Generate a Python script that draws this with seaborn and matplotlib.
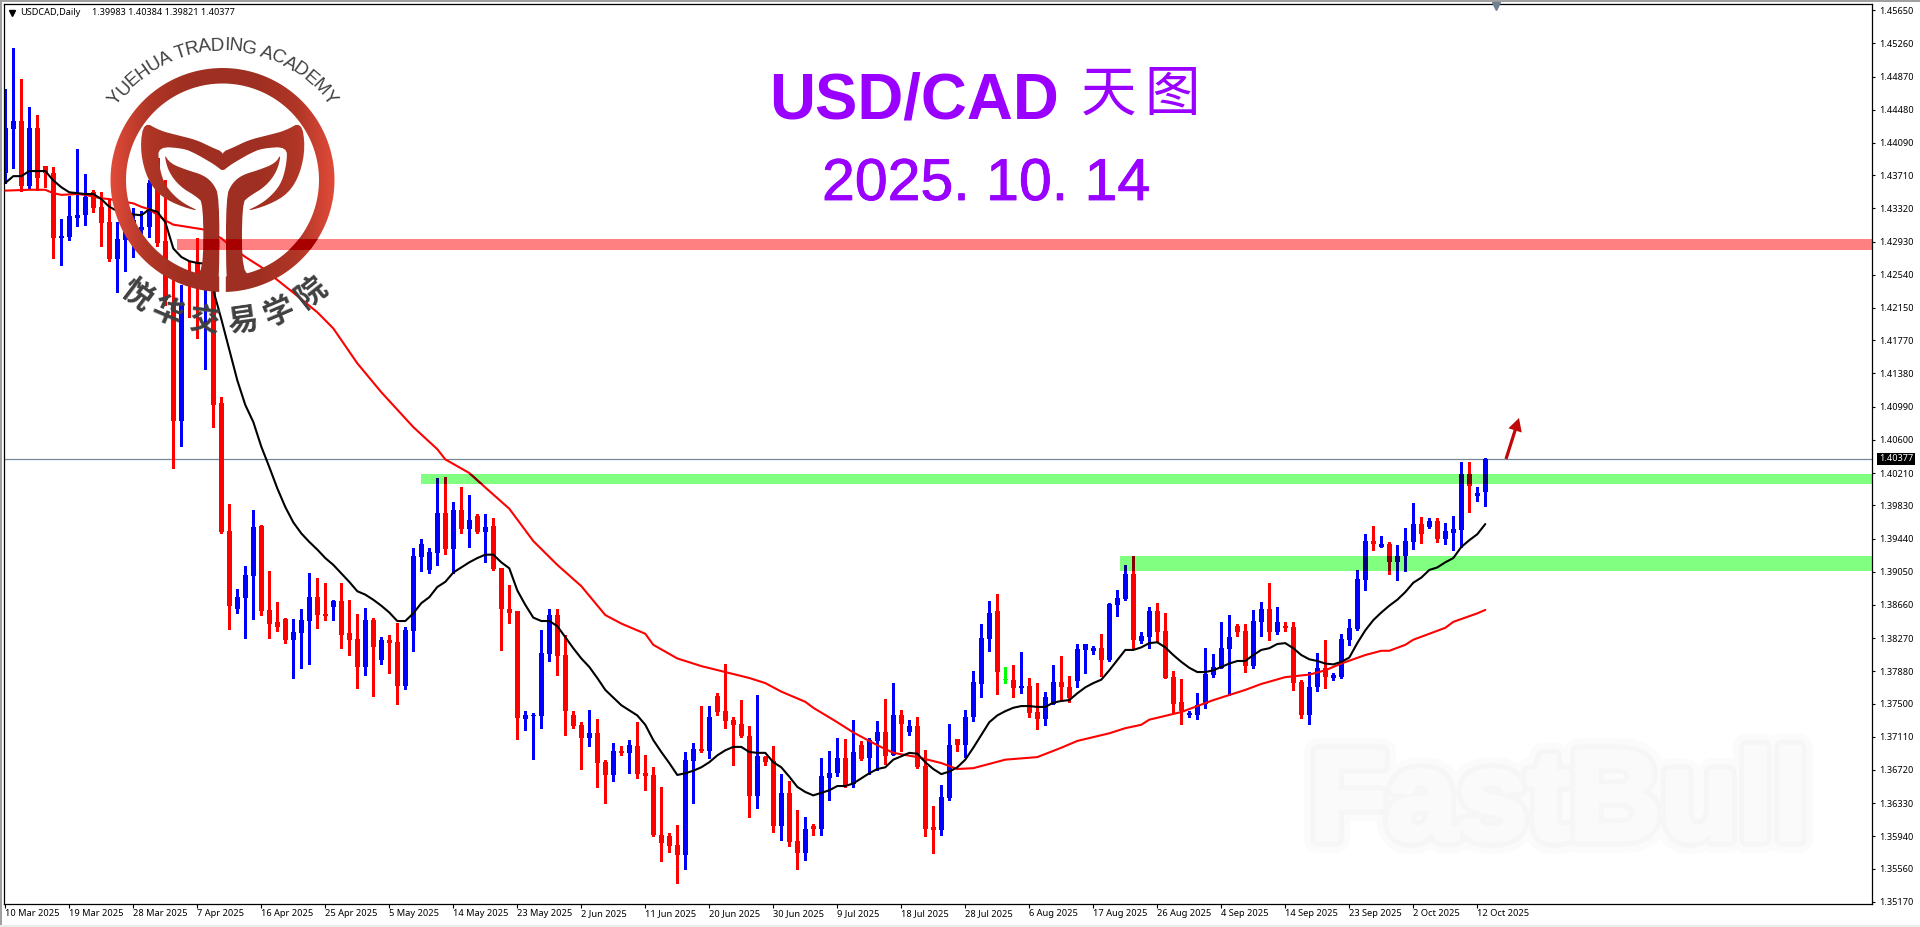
import numpy as np
import pandas as pd
import seaborn as sns
import matplotlib
matplotlib.use("Agg")
import matplotlib.pyplot as plt
import matplotlib.patheffects as pe
from matplotlib.colors import LinearSegmentedColormap
from matplotlib.font_manager import FontProperties
from matplotlib.patches import FancyArrow, PathPatch, Rectangle
from matplotlib.path import Path
from matplotlib.textpath import text_to_path

# %% Data

opens = [1.4374,1.4425,1.4435,1.4358,1.4427,1.4382,1.4374,1.4297,1.4298,1.4321,1.4324,1.4351,1.4334,1.4316,1.4273,1.4295,1.4297,1.4307,1.4310,1.4391,
         1.4294,1.4221,1.4082,1.4257,1.4269,1.4236,1.4239,1.4103,1.3953,1.3861,1.3874,1.3900,1.3959,1.3860,1.3846,1.3849,1.3825,1.3833,1.3847,1.3875,
         1.3855,1.3863,1.3871,1.3833,1.3826,1.3793,1.3848,1.3801,1.3825,1.3822,1.3771,1.3835,1.3922,1.3907,1.3927,1.3974,1.3932,1.3978,1.3955,1.3971,
         1.3952,1.3959,1.3909,1.3861,1.3859,1.3732,1.3735,1.3735,1.3808,1.3854,1.3807,1.3737,1.3725,1.3709,1.3715,1.3681,1.3666,1.3694,1.3692,1.3700,
         1.3668,1.3666,1.3596,1.3594,1.3584,1.3572,1.3682,1.3696,1.3694,1.3759,1.3741,1.3731,1.3726,1.3712,1.3641,1.3687,1.3682,1.3606,1.3645,1.3588,
         1.3574,1.3606,1.3602,1.3663,1.3668,1.3686,1.3655,1.3701,1.3686,1.3706,1.3716,1.3690,1.3736,1.3716,1.3723,1.3676,1.3605,1.3601,1.3639,1.3708,
         1.3701,1.3734,1.3773,1.3826,1.3859,1.3778,1.3778,1.3768,1.3771,1.3740,1.3732,1.3749,1.3775,1.3770,1.3776,1.3813,1.3812,1.3815,1.3801,1.3866,
         1.3873,1.3902,1.3823,1.3828,1.3859,1.3835,1.3781,1.3752,1.3736,1.3737,1.3749,1.3783,1.3792,1.3814,1.3841,1.3835,1.3794,1.3846,1.3861,1.3834,
         1.3841,1.3840,1.3775,1.3737,1.3769,1.3792,1.3780,1.3781,1.3825,1.3838,1.3895,1.3941,1.3934,1.3937,1.3916,1.3924,1.3940,1.3961,1.3957,1.3964,
         1.3944,1.3951,1.3954,1.4020,1.3994,1.39983]
highs = [1.4472,1.4521,1.4484,1.4451,1.4442,1.4382,1.4381,1.4320,1.4347,1.4402,1.4373,1.4354,1.4351,1.4342,1.4316,1.4327,1.4333,1.4329,1.4365,1.4391,
         1.4365,1.4248,1.4242,1.4269,1.4297,1.4283,1.4254,1.4110,1.3985,1.3885,1.3912,1.3978,1.3960,1.3906,1.3869,1.3851,1.3849,1.3861,1.3904,1.3898,
         1.3892,1.3872,1.3892,1.3872,1.3855,1.3862,1.3850,1.3828,1.3831,1.3845,1.3840,1.3933,1.3944,1.3933,1.4015,1.4016,1.3987,1.4004,1.3995,1.3973,
         1.3973,1.3968,1.3909,1.3889,1.3859,1.3741,1.3739,1.3836,1.3861,1.3861,1.3831,1.3741,1.3728,1.3742,1.3732,1.3684,1.3704,1.3700,1.3707,1.3728,
         1.3690,1.3675,1.3652,1.3598,1.3607,1.3693,1.3703,1.3747,1.3747,1.3762,1.3797,1.3734,1.3754,1.3723,1.3760,1.3688,1.3700,1.3667,1.3659,1.3625,
         1.3616,1.3608,1.3686,1.3694,1.3709,1.3708,1.3731,1.3706,1.3709,1.3729,1.3755,1.3774,1.3742,1.3731,1.3734,1.3695,1.3629,1.3654,1.3726,1.3708,
         1.3742,1.3788,1.3844,1.3870,1.3879,1.3793,1.3795,1.3810,1.3780,1.3774,1.3763,1.3795,1.3806,1.3782,1.3820,1.3820,1.3818,1.3832,1.3868,1.3883,
         1.3913,1.3924,1.3834,1.3863,1.3868,1.3857,1.3788,1.3779,1.3741,1.3762,1.3815,1.3808,1.3846,1.3854,1.3844,1.3843,1.3860,1.3869,1.3892,1.3863,
         1.3846,1.3846,1.3778,1.3787,1.3809,1.3825,1.3786,1.3832,1.3849,1.3907,1.3949,1.3959,1.3947,1.3940,1.3936,1.3956,1.3986,1.3969,1.3968,1.3968,
         1.3962,1.3970,1.4034,1.4034,1.4004,1.40384]
lows = [1.4362,1.4380,1.4353,1.4356,1.4354,1.4357,1.4274,1.4266,1.4295,1.4311,1.4313,1.4328,1.4288,1.4270,1.4234,1.4259,1.4275,1.4297,1.4298,1.4288,
        1.4218,1.4027,1.4053,1.4204,1.4180,1.4143,1.4075,1.3950,1.3838,1.3856,1.3827,1.3849,1.3854,1.3827,1.3835,1.3821,1.3780,1.3792,1.3796,1.3839,
        1.3848,1.3848,1.3815,1.3807,1.3768,1.3783,1.3759,1.3796,1.3786,1.3749,1.3767,1.3812,1.3906,1.3904,1.3913,1.3926,1.3904,1.3950,1.3934,1.3950,
        1.3916,1.3907,1.3813,1.3845,1.3708,1.3719,1.3685,1.3721,1.3800,1.3783,1.3713,1.3721,1.3673,1.3700,1.3652,1.3633,1.3659,1.3689,1.3668,1.3663,
        1.3648,1.3594,1.3565,1.3575,1.3539,1.3555,1.3633,1.3693,1.3686,1.3736,1.3721,1.3678,1.3711,1.3616,1.3627,1.3678,1.3599,1.3590,1.3582,1.3555,
        1.3566,1.3596,1.3596,1.3637,1.3665,1.3652,1.3652,1.3684,1.3667,1.3672,1.3679,1.3689,1.3694,1.3713,1.3674,1.3594,1.3574,1.3595,1.3637,1.3694,
        1.3687,1.3729,1.3758,1.3812,1.3761,1.3774,1.3758,1.3762,1.3734,1.3720,1.3725,1.3749,1.3753,1.3752,1.3769,1.3786,1.3808,1.3782,1.3800,1.3853,
        1.3872,1.3814,1.3821,1.3815,1.3823,1.3780,1.3740,1.3726,1.3734,1.3732,1.3745,1.3781,1.3792,1.3760,1.3829,1.3787,1.3792,1.3829,1.3825,1.3832,
        1.3835,1.3766,1.3733,1.3726,1.3765,1.3768,1.3778,1.3780,1.3819,1.3836,1.3883,1.3931,1.3934,1.3902,1.3895,1.3906,1.3932,1.3939,1.3956,1.3940,
        1.3937,1.3931,1.3934,1.3975,1.3988,1.39821]
closes = [1.4427,1.4435,1.4358,1.4427,1.4368,1.4374,1.4297,1.4300,1.4323,1.4324,1.4346,1.4333,1.4315,1.4273,1.4296,1.4307,1.4318,1.4310,1.4362,1.4292,
          1.4224,1.4082,1.4221,1.4245,1.4242,1.4260,1.4101,1.3952,1.3865,1.3875,1.3901,1.3958,1.3859,1.3844,1.3840,1.3825,1.3834,1.3848,1.3875,1.3854,
          1.3853,1.3871,1.3830,1.3825,1.3793,1.3848,1.3817,1.3825,1.3821,1.3771,1.3836,1.3923,1.3937,1.3928,1.3974,1.3932,1.3978,1.3955,1.3966,1.3952,
          1.3958,1.3908,1.3861,1.3857,1.3733,1.3736,1.3736,1.3809,1.3854,1.3806,1.3741,1.3724,1.3709,1.3715,1.3680,1.3666,1.3694,1.3692,1.3701,1.3667,
          1.3665,1.3595,1.3586,1.3582,1.3572,1.3684,1.3696,1.3694,1.3734,1.3740,1.3729,1.3725,1.3712,1.3641,1.3688,1.3681,1.3606,1.3645,1.3587,1.3574,
          1.3602,1.3602,1.3665,1.3668,1.3686,1.3653,1.3693,1.3685,1.3707,1.3716,1.3688,1.3736,1.3726,1.3723,1.3675,1.3603,1.3601,1.3640,1.3701,1.3701,
          1.3734,1.3775,1.3827,1.3857,1.3787,1.3778,1.3768,1.3771,1.3739,1.3732,1.3758,1.3775,1.3769,1.3756,1.3814,1.3820,1.3815,1.3801,1.3867,1.3874,
          1.3902,1.3825,1.3829,1.3859,1.3834,1.3780,1.3750,1.3741,1.3739,1.3748,1.3785,1.3793,1.3815,1.3828,1.3834,1.3794,1.3847,1.3861,1.3834,1.3846,
          1.3839,1.3774,1.3737,1.3770,1.3792,1.3781,1.3783,1.3826,1.3839,1.3896,1.3941,1.3937,1.3937,1.3916,1.3924,1.3941,1.3961,1.3949,1.3964,1.3944,
          1.3953,1.3955,1.4020,1.4006,1.3998,1.40377]

ma_fast = [1.4362,1.4370,1.4370,1.4376,1.4376,1.4376,1.4365,1.4357,1.4351,1.4350,1.4349,1.4349,1.4343,1.4334,1.4329,1.4328,1.4325,1.4324,1.4331,1.4328,
           1.4316,1.4285,1.4275,1.4270,1.4268,1.4267,1.4236,1.4202,1.4166,1.4130,1.4101,1.4081,1.4052,1.4028,1.4003,1.3981,1.3963,1.3950,1.3940,1.3931,
           1.3921,1.3913,1.3903,1.3893,1.3882,1.3878,1.3872,1.3865,1.3857,1.3847,1.3847,1.3856,1.3868,1.3875,1.3887,1.3893,1.3904,1.3910,1.3916,1.3921,
           1.3925,1.3925,1.3916,1.3909,1.3883,1.3866,1.3851,1.3847,1.3847,1.3841,1.3828,1.3815,1.3803,1.3793,1.3780,1.3766,1.3757,1.3748,1.3742,1.3736,
           1.3725,1.3707,1.3693,1.3680,1.3666,1.3668,1.3671,1.3675,1.3681,1.3689,1.3695,1.3699,1.3699,1.3693,1.3692,1.3692,1.3681,1.3675,1.3664,1.3652,
           1.3646,1.3642,1.3645,1.3648,1.3653,1.3653,1.3656,1.3662,1.3668,1.3673,1.3675,1.3684,1.3688,1.3692,1.3691,1.3681,1.3673,1.3667,1.3670,1.3675,
           1.3684,1.3698,1.3713,1.3728,1.3736,1.3741,1.3745,1.3747,1.3747,1.3746,1.3746,1.3751,1.3753,1.3754,1.3762,1.3769,1.3774,1.3778,1.3789,1.3801,
           1.3813,1.3813,1.3816,1.3821,1.3822,1.3816,1.3807,1.3799,1.3792,1.3787,1.3787,1.3789,1.3793,1.3797,1.3800,1.3800,1.3807,1.3813,1.3815,1.3820,
           1.3821,1.3815,1.3807,1.3802,1.3800,1.3797,1.3796,1.3799,1.3804,1.3821,1.3836,1.3848,1.3857,1.3865,1.3872,1.3881,1.3892,1.3898,1.3907,1.3910,
           1.3916,1.3921,1.3934,1.3942,1.3949,1.3961]

ma_slow_bar = [0,3,5,6,7,9,10,12,13,16,17,18,20,21,23,25,27,28,30,32,34,36,39,41,44,47,51,54,55,58,60,63,66,69,72,75,77,80,81,84,87,90,93,95,97,100,101,
               104,106,109,111,114,117,119,121,125,129,132,134,138,140,142,143,147,151,153,155,157,160,163,165,167,170,172,173,175,176,180,181,184,185]
ma_slow = [1.4353,1.4354,1.4354,1.4350,1.4348,1.4349,1.4348,1.4344,1.4343,1.4338,1.4334,1.4331,1.4318,1.4313,1.4310,1.4307,1.4297,1.4289,1.4275,1.4263,1.4248,
           1.4233,1.4210,1.4191,1.4150,1.4116,1.4075,1.4049,1.4037,1.4021,1.4004,1.3979,1.3941,1.3913,1.3888,1.3854,1.3844,1.3832,1.3819,1.3803,1.3794,1.3787,
           1.3780,1.3774,1.3764,1.3752,1.3745,1.3728,1.3716,1.3701,1.3692,1.3687,1.3680,1.3673,1.3674,1.3684,1.3687,1.3698,1.3706,1.3715,1.3721,1.3725,1.3731,
           1.3740,1.3754,1.3760,1.3766,1.3773,1.3781,1.3784,1.3789,1.3797,1.3807,1.3812,1.3812,1.3819,1.3825,1.3839,1.3846,1.3856,1.3860]

date_bars = list(range(0, 185, 8))
date_labels = ["10 Mar 2025","19 Mar 2025","28 Mar 2025","7 Apr 2025","16 Apr 2025","25 Apr 2025","5 May 2025","14 May 2025",
               "23 May 2025","2 Jun 2025","11 Jun 2025","20 Jun 2025","30 Jun 2025","9 Jul 2025","18 Jul 2025","28 Jul 2025",
               "6 Aug 2025","17 Aug 2025","26 Aug 2025","4 Sep 2025","14 Sep 2025","23 Sep 2025","2 Oct 2025","12 Oct 2025"]
price_ticks = [1.45650,1.45260,1.44870,1.44480,1.44090,1.43710,1.43320,1.42930,1.42540,1.42150,1.41770,1.41380,1.40990,1.40600,
               1.40210,1.39830,1.39440,1.39050,1.38660,1.38270,1.37880,1.37500,1.37110,1.36720,1.36330,1.35940,1.35560,1.35170]

# resistance / support zones: first bar, lower price, upper price
zone_red = (21.5, 1.4283, 1.4296)
zone_green_top = (52.0, 1.4008, 1.4020)
zone_green_low = (139.3, 1.3906, 1.3923)

# %% Figure set up

sns.set_theme(style="ticks")
plt.rcParams['font.family'] = ['Liberation Sans', 'Noto Sans CJK SC', 'DejaVu Sans']

W, H = 1920, 927
fig = plt.figure(figsize=(W/100, H/100), dpi=100, facecolor="white")

def px_axes(z):
    """Axes covering the whole figure, in picture pixels"""
    a = fig.add_axes([0, 0, 1, 1], zorder=z)
    a.set_xlim(0, W)
    a.set_ylim(H, 0)
    a.axis("off")
    a.patch.set_alpha(0)
    return a

under = px_axes(-1)
ax = fig.add_axes([4/W, 1-904/H, (1872-4)/W, (904-4)/H], zorder=1)
ax.patch.set_alpha(0)
over = px_axes(2)

# %% Candles

df = pd.DataFrame({"open": opens, "high": highs, "low": lows, "close": closes})
df["bar"] = df.index
df["color"] = np.where(df["close"] > df["open"], "#0000FF",
                       np.where(df["close"] < df["open"], "#FF0000", "#00FF00"))
df.loc[125, "color"] = "#00FF00"

def draw_candles(colors, z, clip=None):
    w = ax.vlines(df["bar"], df["low"], df["high"], colors=colors, linewidth=0.75, zorder=z, antialiased=False)
    b = ax.bar(df["bar"], (df["close"]-df["open"]).abs().clip(lower=0.0001), bottom=df[["open", "close"]].min(axis=1),
               width=0.625, color=colors, linewidth=0, zorder=z, antialiased=False)
    if clip is not None:
        w.set_clip_path(clip)
        for p in b:
            p.set_clip_path(clip)

draw_candles(df["color"], 2)

zones = {}
for name, (start, lo, hi), col in [("red", zone_red, "#FF8080"),
                                   ("g1", zone_green_top, "#80FF80"),
                                   ("g2", zone_green_low, "#80FF80")]:
    zones[name] = ax.add_patch(Rectangle((start, lo), 233.5-start, hi-lo, facecolor=col, linewidth=0, zorder=1, clip_on=False))

# bands multiply over the candles, so darken what is inside them
dark = df["color"].map({"#0000FF": "#000080", "#FF0000": "#800000", "#00FF00": "#008000"})
for name in ["g1", "g2"]:
    draw_candles(dark, 3, clip=zones[name])

# %% Moving averages and last price

sns.lineplot(x=ma_slow_bar, y=ma_slow, color="#FF0000", linewidth=1.5, ax=ax, legend=False, zorder=4, estimator=None)
slow_dark = sns.lineplot(x=ma_slow_bar, y=ma_slow, color="#800000", linewidth=1.5, ax=ax, legend=False, zorder=5, estimator=None).lines[-1]
slow_dark.set_clip_path(zones["g1"])
sns.lineplot(x=df["bar"], y=ma_fast, color="black", linewidth=1.5, ax=ax, legend=False, zorder=6, estimator=None)

ax.axhline(closes[-1], color="#778899", linewidth=0.9, zorder=1.5)

# %% Axes

ax.set_xlim(-0.1625, 233.34)
ax.set_ylim(1.35143, 1.45724)
ax.set_xlabel("")
ax.set_ylabel("")
for s in ax.spines.values():
    s.set_visible(True)
    s.set_color("black")
    s.set_linewidth(0.9)
ax.yaxis.tick_right()
ax.set_yticks(price_ticks)
ax.set_yticklabels([f"{p:.5f}" for p in price_ticks], fontsize=6.6, color="black", family="Noto Sans")
ax.tick_params(axis="y", length=2.4, width=0.8, pad=2.6, color="black")
ax.set_xticks(date_bars)
ax.set_xticklabels(date_labels, fontsize=6.7, color="black", family="Noto Sans", ha="left")
ax.tick_params(axis="x", length=3.2, width=0.8, pad=0.6, color="black")

ax.text(1.0037, closes[-1], f"{closes[-1]:.5f}", transform=ax.get_yaxis_transform(), color="white", fontsize=6.6,
        family="Noto Sans", va="center", ha="left", bbox=dict(facecolor="black", edgecolor="none", pad=1.2), zorder=10, clip_on=False)

# %% Window furniture

for rect in [(0, 0, W, 2, "#A0A0A0"), (0, 0, 2, H, "#A0A0A0"), (0, H-2, W, 2, "#ECECEC")]:
    under.add_patch(Rectangle(rect[:2], rect[2], rect[3], facecolor=rect[4], linewidth=0))
over.plot([11.5], [12.5], marker="v", color="black", markersize=5, linestyle="none")
over.plot([1496], [5.5], marker="v", color="#708090", markersize=6, linestyle="none")
over.text(20, 12.5, "USDCAD,Daily", fontsize=6.6, family="Noto Sans", color="black", va="center")
over.text(92, 12.5, "1.39983 1.40384 1.39821 1.40377", fontsize=6.55, family="Noto Sans", color="black", va="center")

# %% Titles

PURPLE = "#9900FF"
over.text(769, 118, "USD/CAD", fontsize=45.8, fontweight="bold", color=PURPLE, va="baseline", ha="left", family="Liberation Sans")
over.text(1108, 95, "天", fontsize=40, color=PURPLE, va="center", ha="center", family="Noto Sans CJK SC")
over.text(1172, 95, "图", fontsize=40, color=PURPLE, va="center", ha="center", family="Noto Sans CJK SC")
over.text(822, 200, "2025. 10. 14", fontsize=42.5, color=PURPLE, va="baseline", ha="left", family="Liberation Sans",
          path_effects=[pe.withStroke(linewidth=0.6, foreground=PURPLE)])

# arrow
over.add_patch(FancyArrow(1506, 459, 13, -41, width=3.2, head_width=14, head_length=13,
                          length_includes_head=True, color="#C00808", linewidth=0))

# FastBull mark under the chart
under.text(1559, 806, "FastBull", fontsize=91, fontweight="bold", color="#FAFAFA", va="center", ha="center",
           family="Liberation Sans", path_effects=[pe.withStroke(linewidth=20, foreground="#FBFBFB"),
                                                   pe.withStroke(linewidth=11, foreground="#F6F6F6"),
                                                   pe.withStroke(linewidth=4, foreground="#FAFAFA")])

# %% Logo

CX, CY, R_OUT, R_IN = 222.5, 180, 112, 96.5
GAP = 3.3

def ring():
    go, gi = np.arcsin(GAP/R_OUT), np.arcsin(GAP/R_IN)
    a = np.linspace(go, 2*np.pi-go, 180)
    b = np.linspace(2*np.pi-gi, gi, 180)
    return np.r_[np.c_[CX+R_OUT*np.sin(a), CY+R_OUT*np.cos(a)],
                 np.c_[CX+R_IN*np.sin(b), CY+R_IN*np.cos(b)]]

def smooth(pts, n=2):
    """Chaikin corner cutting"""
    for _ in range(n):
        nxt = np.roll(pts, -1, axis=0)
        pts = np.c_[0.75*pts+0.25*nxt, 0.25*pts+0.75*nxt].reshape(-1, 2)
    return pts

# outlines traced on a 3x crop of the logo, left half
tail = np.array([(432,365),(480,392),(530,405),(590,420),(635,442),(674,458),(674,518),(645,495),(620,480),(585,460),(550,445),
                 (475,440),(476,490),(490,545),(515,580),(550,610),(603,636),(530,615),(470,580),(435,520),(420,440)], float)
leaf = np.array([(492,460),(510,490),(560,510),(610,525),(640,550),(658,590),(658,830),(650,860),(625,872),(600,862),(570,820),
                 (610,822),(610,610),(590,590),(540,560),(505,515)], float)

def mirror(pts):
    m = pts.copy()
    m[:, 0] = 2*668 - m[:, 0]
    return m

shapes = [ring()] + [smooth(p)/3 for p in (tail, leaf, mirror(tail), mirror(leaf))]
shade = LinearSegmentedColormap.from_list("logo", ["#E24B3A", "#B03626", "#A03022", "#9E2F22", "#A03022", "#B03626", "#E24B3A"])
grad = np.linspace(0, 1, 256)[None, :]
for pts in shapes:
    path = Path(np.r_[pts, pts[:1]], closed=True)
    im = over.imshow(grad, cmap=shade, extent=(110, 335, 295, 65), aspect="auto", zorder=3)
    im.set_clip_path(PathPatch(path, transform=over.transData))
    deep = over.add_patch(PathPatch(path, facecolor="#A80000", linewidth=0, zorder=4))
    deep.set_clip_path(zones["red"])
over.set_xlim(0, W)
over.set_ylim(H, 0)

def arc_text(s, r, first, last, size, color):
    """One real text per character, laid along the top of the logo circle"""
    prop = FontProperties(family="Liberation Sans", size=size)
    widths = [text_to_path.get_text_width_height_descent(c, prop, False)[0] for c in s]
    edges = np.cumsum([0] + widths)
    for c, mid in zip(s, (edges[:-1]+edges[1:])/2):
        th = np.radians(first + (last-first)*mid/edges[-1])
        over.text(CX+r*np.sin(th), CY-r*np.cos(th), c, fontsize=size, color=color, rotation=-np.degrees(th),
                  rotation_mode="anchor", ha="center", va="center", family="Liberation Sans", zorder=5)

arc_text("YUEHUA TRADING ACADEMY", 134, -55, 55, 13.6, "#404040")

cn_chars = ["悦", "华", "交", "易", "学", "院"]
cn_angles = [-37, -23, -7.5, 8, 23, 38.5]
for c, a in zip(cn_chars, cn_angles):
    th = np.radians(a)
    over.text(CX+143*np.sin(th), CY+143*np.cos(th), c, fontsize=22, fontweight="bold", color="#404040", rotation=a,
              rotation_mode="anchor", ha="center", va="center", family="Noto Sans CJK SC", zorder=5)

fig.savefig("out.png", dpi=100, facecolor="white")
